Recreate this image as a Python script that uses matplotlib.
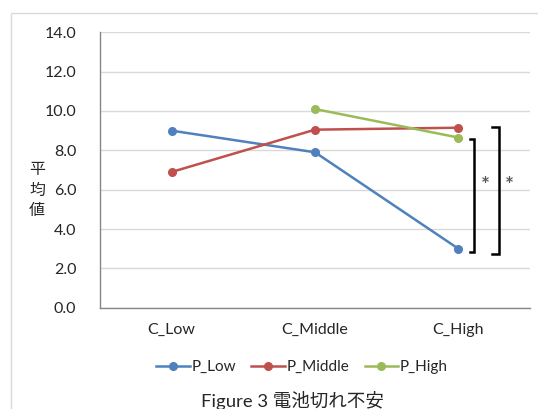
import matplotlib
matplotlib.use("Agg")
import matplotlib.pyplot as plt
from matplotlib.patches import Rectangle
from matplotlib.lines import Line2D

categories = ["C_Low", "C_Middle", "C_High"]
series_names = ["P_Low", "P_Middle", "P_High"]
p_low = [9.0, 7.9, 3.0]
p_middle = [6.9, 9.05, 9.15]
p_high = [None, 10.1, 8.65]
colors = ["#4F81BD", "#C0504D", "#9BBB59"]
yticks = [0, 2, 4, 6, 8, 10, 12, 14]

plt.rcParams['font.family'] = ['Lato', 'Noto Sans CJK JP', 'DejaVu Sans']

fig = plt.figure(figsize=(5.38, 4.09), dpi=100)
fig.patch.set_facecolor("white")
# outer chart frame
fig.patches.append(Rectangle((11/538, -0.1), 1.0, 1 - 13/409 + 0.1, transform=fig.transFigure,
                             fill=False, edgecolor="#d9d9d9", linewidth=1.0))

ax = fig.add_axes([100/538, 1 - 307.7/409, 430/538, (307.7 - 32.3)/409])
x = list(range(len(categories)))
for name, vals, c in zip(series_names, [p_low, p_middle, p_high], colors):
    xs = [xi for xi, v in zip(x, vals) if v is not None]
    ys = [v for v in vals if v is not None]
    ax.plot(xs, ys, color=c, linewidth=1.8, marker="o", markersize=5.5, label=name,
            solid_capstyle="round", zorder=3)

ax.set_xlim(-0.5, 2.5)
ax.set_ylim(0, 14)
ax.set_yticks(yticks)
ax.set_yticklabels([f"{v:.1f}" for v in yticks], fontsize=11.5, color="#262626")
ax.set_xticks(x)
ax.set_xticklabels(categories, fontsize=11.5, color="#262626")
ax.tick_params(axis="y", length=0, pad=17)
ax.tick_params(axis="x", length=0, pad=11)
ax.grid(axis="y", color="#d9d9d9", linewidth=1.0)
ax.set_axisbelow(True)
for s in ["top", "right"]:
    ax.spines[s].set_visible(False)
ax.spines["left"].set_color("#868686")
ax.spines["bottom"].set_color("#868686")
ax.spines["left"].set_linewidth(1.0)
ax.spines["bottom"].set_linewidth(1.0)

# y label stacked vertically
fig.text(37/538, 1 - 190/409, "平\n均\n値", ha="center", va="center", fontsize=11.5,
         family=['Noto Sans CJK JP', 'DejaVu Sans'], color="#262626", linespacing=1.25)

# significance brackets
def bracket(xv, xl, ytop, ybot, star_x):
    ax.plot([xl, xv, xv, xl], [ytop, ytop, ybot, ybot], color="black", linewidth=1.8,
            clip_on=False, zorder=4, solid_joinstyle="miter")
    ax.text(star_x, 6.3, "*", ha="center", va="center_baseline",
            fontsize=15, fontweight="bold", color="#595959", clip_on=False)

bracket(2.109, 2.078, 8.56, 2.82, 2.19)
bracket(2.282, 2.235, 9.2, 2.73, 2.355)

handles = [Line2D([0], [0], color=c, linewidth=1.8, marker="o", markersize=5.5) for c in colors]
fig.legend(handles, series_names, loc="center", bbox_to_anchor=(302/538, 1 - 367/409),
           ncol=3, frameon=False, fontsize=11, handlelength=2.2, handletextpad=0.1,
           columnspacing=1.0, labelcolor="#262626")

fig.text(292/538, 1 - 401/409, "Figure 3 電池切れ不安", ha="center", va="center",
         fontsize=13.3, family=['Lato', 'Noto Sans CJK JP'], color="#262626")

fig.savefig("out.png", dpi=100)
